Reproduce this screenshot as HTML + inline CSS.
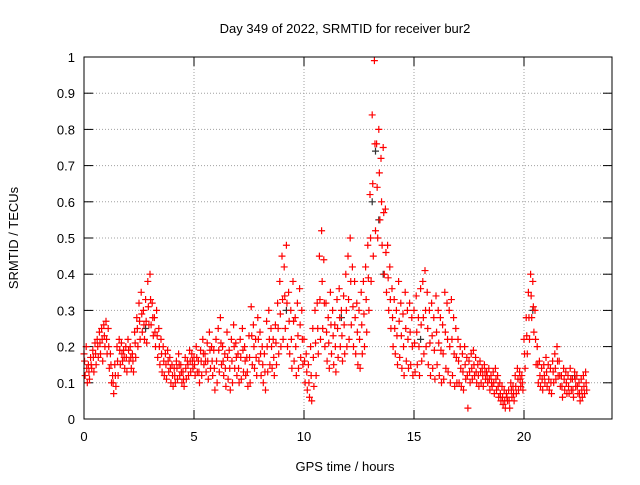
<!DOCTYPE html>
<html><head><meta charset="utf-8"><style>
body{margin:0;background:#fff}
svg{font-family:"Liberation Sans",sans-serif;font-size:13px}
</style></head><body>
<svg id="chart" width="640" height="480" xmlns="http://www.w3.org/2000/svg">
<text x="345" y="33" text-anchor="middle">Day 349 of 2022, SRMTID for receiver bur2</text>
<text transform="translate(18,238) rotate(-90)" text-anchor="middle">SRMTID / TECUs</text>
<text x="345" y="471" text-anchor="middle">GPS time / hours</text>
<g id="grid"></g>
<g id="axes"></g>
<g id="marks"></g>
<rect x="84" y="57" width="528" height="362" fill="none" stroke="#000" stroke-width="1"/>
</svg>
<script>
const xTicks=[0,5,10,15,20];
const yTicks=[0,0.1,0.2,0.3,0.4,0.5,0.6,0.7,0.8,0.9,1];
const yTickLabels=["0","0.1","0.2","0.3","0.4","0.5","0.6","0.7","0.8","0.9","1"];
const seriesA=[.18,.20,.15,.17,.19,.21,.22,.24,.25,.26,
.27,.25,.18,.12,.15,.20,.22,.21,.19,.20,
.22,.20,.18,.24,.28,.32,.35,.30,.33,.38,
.40,.32,.28,.30,.25,.22,.20,.18,.19,.17,
.15,.14,.16,.18,.15,.13,.17,.16,.19,.18,
.17,.20,.16,.19,.22,.18,.21,.24,.20,.19,
.22,.25,.28,.20,.18,.24,.19,.22,.26,.21,
.18,.22,.25,.20,.17,.23,.31,.26,.22,.28,
.24,.20,.18,.27,.30,.25,.22,.26,.32,.38,
.45,.42,.48,.35,.30,.38,.28,.32,.36,.30,
.22,.18,.15,.20,.25,.30,.32,.45,.52,.44,
.32,.28,.35,.30,.26,.33,.36,.30,.34,.40,
.45,.50,.42,.38,.32,.30,.35,.38,.42,.48,
.62,.84,.99,.76,.80,.72,.75,.58,.48,.42,
.36,.33,.30,.38,.32,.29,.35,.30,.32,.28,
.30,.34,.28,.36,.38,.41,.35,.30,.32,.28,
.34,.30,.28,.26,.35,.32,.30,.33,.28,.25,
.22,.20,.18,.20,.17,.16,.18,.19,.17,.15,
.16,.14,.15,.13,.14,.12,.13,.14,.12,.10,
.09,.08,.07,.08,.10,.09,.12,.14,.13,.12,
.22,.28,.35,.40,.38,.30,.20,.16,.14,.15,
.17,.15,.14,.16,.18,.20,.16,.12,.14,.13,
.12,.14,.11,.13,.12,.10,.11,.12,.13];
const seriesB=[.12,.10,.11,.14,.13,.15,.17,.18,.16,.20,
.18,.14,.10,.07,.09,.12,.15,.16,.14,.13,
.16,.14,.13,.17,.20,.22,.24,.22,.21,.26,
.26,.23,.20,.17,.15,.13,.12,.11,.13,.10,
.09,.10,.11,.12,.10,.09,.11,.12,.13,.14,
.12,.13,.10,.12,.15,.13,.11,.14,.12,.08,
.10,.13,.15,.12,.09,.11,.08,.10,.14,.12,
.10,.11,.13,.12,.09,.10,.15,.14,.12,.16,
.12,.10,.08,.13,.15,.14,.12,.15,.18,.20,
.22,.25,.20,.18,.14,.16,.12,.14,.17,.15,
.10,.08,.06,.05,.09,.12,.18,.22,.25,.20,
.16,.14,.18,.15,.13,.17,.20,.16,.18,.20,
.22,.26,.20,.18,.15,.14,.18,.20,.24,.30,
.38,.45,.52,.50,.55,.48,.40,.35,.30,.25,
.20,.18,.15,.17,.14,.12,.16,.14,.15,.12,
.13,.15,.12,.16,.18,.20,.15,.12,.14,.11,
.15,.12,.10,.11,.14,.13,.10,.12,.09,.10,
.10,.09,.08,.11,.03,.10,.11,.12,.10,.09,
.10,.09,.11,.10,.08,.09,.07,.08,.06,.05,
.04,.03,.05,.03,.06,.05,.07,.08,.09,.08,
.14,.18,.22,.28,.24,.15,.10,.09,.08,.10,
.09,.08,.07,.10,.11,.12,.09,.06,.08,.07,
.07,.08,.06,.09,.07,.05,.06,.07,.08];
const seriesC=[.16,.14,.13,.15,.17,.18,.20,.21,.22,.23,
.22,.20,.15,.10,.12,.16,.19,.18,.17,.17,
.19,.17,.16,.21,.25,.27,.29,.26,.27,.31,
.33,.28,.24,.23,.20,.18,.16,.15,.16,.14,
.12,.12,.14,.15,.13,.11,.14,.15,.16,.16,
.15,.17,.13,.16,.18,.16,.16,.19,.16,.14,
.16,.19,.21,.16,.14,.17,.14,.16,.20,.17,
.14,.17,.19,.16,.13,.17,.23,.20,.17,.22,
.18,.15,.13,.20,.22,.20,.17,.21,.25,.29,
.33,.34,.32,.27,.22,.27,.20,.23,.26,.22,
.16,.13,.10,.12,.17,.21,.25,.33,.38,.32,
.24,.21,.26,.23,.20,.25,.28,.23,.26,.30,
.33,.38,.31,.28,.24,.22,.26,.29,.33,.39,
.50,.65,.76,.64,.68,.60,.57,.46,.39,.33,
.28,.25,.23,.27,.23,.20,.25,.22,.24,.20,
.21,.24,.20,.26,.28,.30,.25,.21,.23,.19,
.24,.21,.19,.18,.24,.22,.20,.22,.18,.17,
.16,.14,.13,.15,.12,.13,.14,.15,.13,.12,
.13,.12,.13,.12,.11,.10,.10,.11,.09,.07,
.06,.05,.06,.05,.08,.07,.09,.11,.11,.10,
.18,.23,.28,.34,.31,.22,.15,.12,.11,.12,
.13,.11,.10,.13,.14,.16,.12,.09,.11,.10,
.09,.11,.08,.11,.09,.07,.08,.09,.10];
const blackTimes=[2.8,9.2,11.7,13.1,13.25,13.4,13.6,15.3,20.4,22.3];
const blackValues=[.25,.30,.28,.60,.74,.55,.40,.22,.30,.12];
const xScale=h=>84+h*22;
const yScale=v=>419-v*362;
const NS="http://www.w3.org/2000/svg";
const grid=document.getElementById('grid'),axes=document.getElementById('axes'),marks=document.getElementById('marks');
function mk(tag,attrs,parent){const e=document.createElementNS(NS,tag);for(const k in attrs)e.setAttribute(k,attrs[k]);parent.appendChild(e);return e;}
xTicks.forEach(t=>{const x=xScale(t);
 if(t>0){const g=mk('line',{x1:x,x2:x,y1:57,y2:419,stroke:'#a0a0a0','stroke-dasharray':'1,2'},grid);
 
 }
 mk('line',{x1:x,x2:x,y1:419,y2:410,stroke:'#000'},axes);
 mk('line',{x1:x,x2:x,y1:57,y2:66,stroke:'#000'},axes);
 const l=mk('text',{x:x,y:441,'text-anchor':'middle'},axes);l.textContent=t;
 
 });
yTicks.forEach((t,i)=>{const y=yScale(t);
 if(t>0&&t<1){const g=mk('line',{x1:84,x2:612,y1:y,y2:y,stroke:'#a0a0a0','stroke-dasharray':'1,2'},grid);
 
 }
 mk('line',{x1:84,x2:93,y1:y,y2:y,stroke:'#000'},axes);
 mk('line',{x1:603,x2:612,y1:y,y2:y,stroke:'#000'},axes);
 const l=mk('text',{x:75,y:y+5,'text-anchor':'end'},axes);l.textContent=yTickLabels[i];
 
 });
function plus(h,v,color,name){const x=xScale(h),y=yScale(v);
 const p=mk('path',{d:`M${x-3.5},${y}h7M${x},${y-3.5}v7`,stroke:color,'stroke-width':1.2,fill:'none'},marks);
 
 }
blackTimes.forEach((h,i)=>plus(h,blackValues[i],'#333','point-black'));
seriesA.forEach((v,i)=>plus(i*0.1,v,'#ff0000','point-a'));
seriesB.forEach((v,i)=>plus(i*0.1+0.05,v,'#ff0000','point-b'));
seriesC.forEach((v,i)=>plus(i*0.1+0.025,v,'#ff0000','point-c'));
</script>
</body></html>
